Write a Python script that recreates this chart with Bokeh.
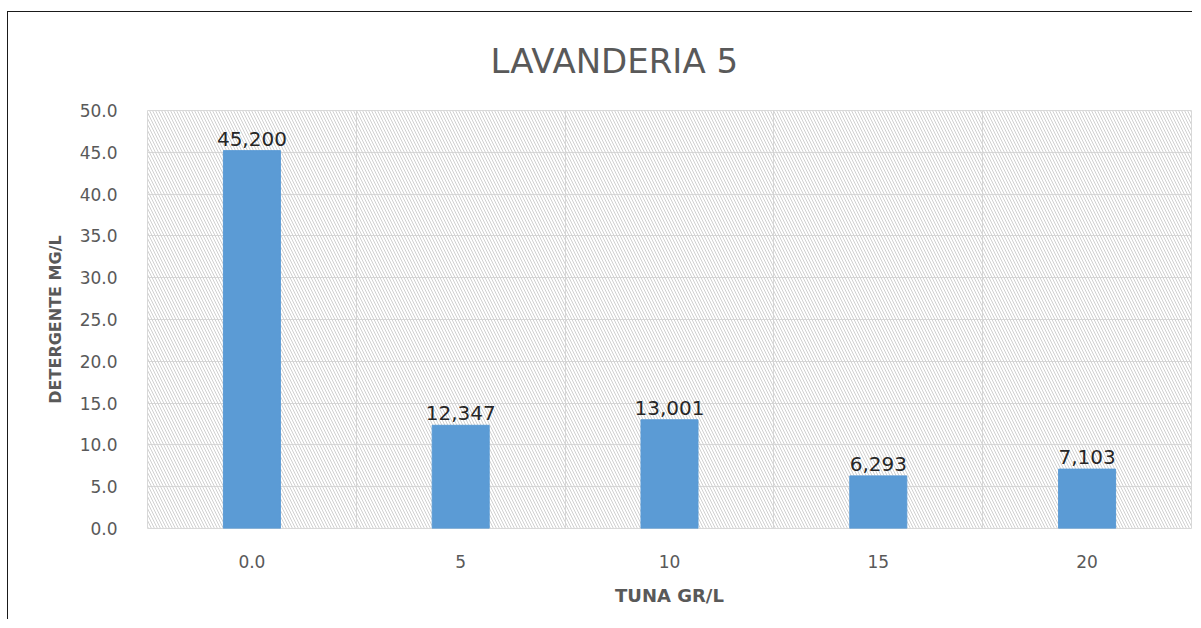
from bokeh.plotting import figure
from bokeh.models import (ColumnDataSource, FixedTicker, SingleIntervalTicker,
                          PrintfTickFormatter, BoxAnnotation, Title, Range1d)
from bokeh.core.properties import value
from bokeh.embed import file_html
from bokeh.resources import INLINE

# ---- data ----
categories = ["0.0", "5", "10", "15", "20"]
detergente = [45.200, 12.347, 13.001, 6.293, 7.103]
title_text = "LAVANDERIA 5"
x_title = "TUNA GR/L"
y_title = "DETERGENTE MG/L"

positions = [i + 0.5 for i in range(len(categories))]
labels = [f"{v:.3f}".replace(".", ",") for v in detergente]
src = ColumnDataSource(dict(x=positions, top=detergente, label=labels))

FONT = "DejaVu Sans"
GRAY = "#595959"

# canvas offset by an outer chart border (top/left), as in the reference
p = figure(width=1185, height=608, output_backend="svg", toolbar_location=None,
           x_range=Range1d(0, len(categories)), y_range=Range1d(0, 50),
           min_border_left=139, min_border_right=2, min_border_top=98,
           min_border_bottom=92)
p.margin = (11, 0, 0, 7)
p.styles = {"border-top": "1px solid #1a1a1a", "border-left": "1px solid #1a1a1a"}

t = Title(text=title_text, align="left", offset=343, text_font=FONT,
          text_font_size="34px", text_font_style="normal", text_color=GRAY,
          standoff=56, vertical_align="top")
p.add_layout(t, "above")

p.outline_line_color = "#d9d9d9"
p.outline_line_width = 1
p.background_fill_color = "white"

hatch = BoxAnnotation(fill_alpha=0, line_alpha=0, hatch_pattern="left_diagonal_line",
                      hatch_color="#d0d0d0", hatch_scale=6, hatch_weight=1,
                      level="underlay")
p.add_layout(hatch)

p.vbar(x="x", top="top", width=0.273, source=src, fill_color="#5B9BD5",
       line_color="#5B9BD5")
p.text(x="x", y="top", text="label", source=src, text_align="center",
       text_baseline="bottom", y_offset=-5, text_font=value(FONT),
       text_font_size="20px", text_color="#262626")

# grid
p.xgrid.ticker = FixedTicker(ticks=list(range(len(categories) + 1)))
p.xgrid.grid_line_color = "#d9d9d9"
p.ygrid.ticker = SingleIntervalTicker(interval=5)
p.ygrid.grid_line_color = "#d9d9d9"

# axes
p.xaxis.ticker = FixedTicker(ticks=positions)
p.xaxis.major_label_overrides = {pos: c for pos, c in zip(positions, categories)}
p.yaxis.ticker = SingleIntervalTicker(interval=5)
p.yaxis.formatter = PrintfTickFormatter(format="%.1f")
for ax in (p.xaxis, p.yaxis):
    ax.axis_line_color = None
    ax.major_tick_line_color = None
    ax.minor_tick_line_color = None
    ax.major_label_text_font = FONT
    ax.major_label_text_font_size = "17px"
    ax.major_label_text_color = GRAY
    ax.axis_label_text_font = FONT
    ax.axis_label_text_font_style = "bold"
    ax.axis_label_text_color = GRAY
p.xaxis.axis_label_text_font_size = "18px"
p.yaxis.axis_label_text_font_size = "16px"
p.xaxis.axis_label = x_title
p.yaxis.axis_label = y_title
p.xaxis.major_label_standoff = 20
p.xaxis.axis_label_standoff = 14
p.yaxis.major_label_standoff = 24
p.yaxis.axis_label_standoff = 12

open("out.html", "w").write(file_html(p, INLINE))
